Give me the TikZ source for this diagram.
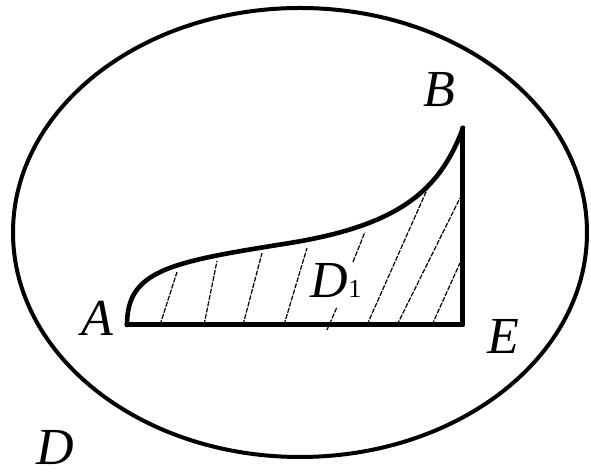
\documentclass[tikz,border=0pt]{standalone}
\usepackage{fontspec}
\setmainfont{Liberation Serif}
\usepackage{tikz}
\usetikzlibrary{positioning}
\tikzset{
  % outer region boundary
  region/.style={draw=black, line width=2pt},
  % edges of the shaded piece
  edge/.style={draw=black, line width=2.5pt, line cap=round, line join=round},
  curve/.style={draw=black, line width=2.3pt, line cap=round},
  % thin hatching inside the piece
  hatch/.style={draw=black, line width=0.6pt, dash pattern=on 2.5pt off 0.7pt},
  % point labels
  lbl/.style={font=\fontsize{26}{30}\selectfont\itshape, inner sep=0pt},
}
\newcommand{\hatchline}[4]{%
  \draw[hatch] (#1,#2) -- (#3,#4);}

\begin{document}
\begin{tikzpicture}[x=0.5pt, y=-0.5pt]
  \useasboundingbox (0,0) rectangle (591,474);

  \draw[region] (300,232.5) ellipse (287 and 224.5);

  \coordinate (A) at (127,325);
  \coordinate (E) at (463,325);
  \coordinate (B) at (463,128);

  \hatchline{160}{325}{177}{272}
  \hatchline{204}{325}{217}{261}
  \hatchline{243}{325}{262}{253}
  \hatchline{284}{325}{307}{248}
  \hatchline{327}{330}{337}{307}
  \hatchline{353}{262}{365}{232}
  \hatchline{367}{325}{430}{183}
  \hatchline{397}{325}{460}{198}
  \hatchline{432}{325}{460}{263}

  \draw[curve] (A) .. controls (127,270) and (170,262) .. (290,243)
                   .. controls (400,225) and (440,190) .. (B);
  \draw[edge] (A) -- (E) -- (B);

  \node[lbl] (lA) at (97,318) {A};
  \node[lbl] (lB) at (439,90) {B};
  \node[lbl] (lE) at (503,336) {E};
  \node[lbl] (lD) at (55,448) {D};
  \node[lbl, anchor=base] (lD1) at (336,298) {D{\upshape\fontsize{13}{14}\selectfont 1}};

\end{tikzpicture}
\end{document}
